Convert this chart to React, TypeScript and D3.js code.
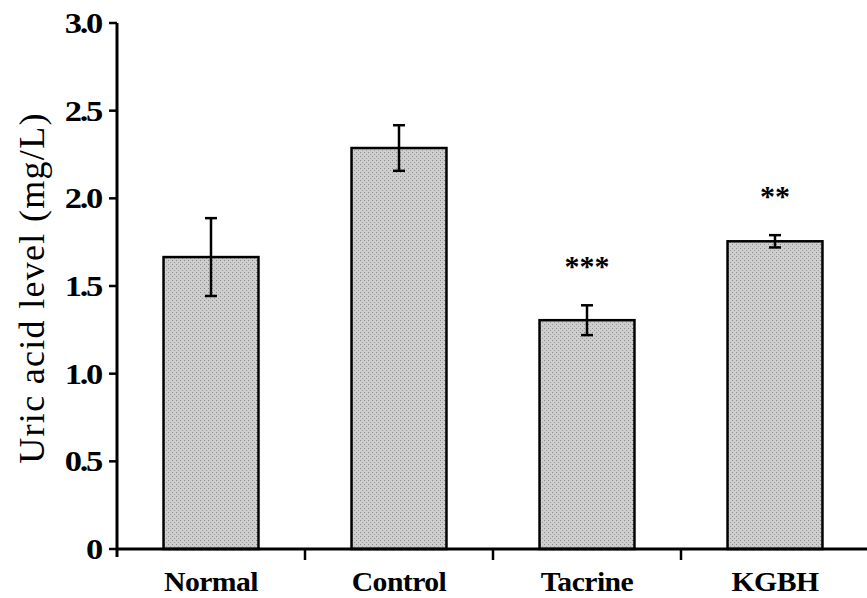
import React from "react";
import * as d3 from "d3";

const categories = ["Normal", "Control", "Tacrine", "KGBH"];
const means = [1.665, 2.287, 1.305, 1.755];
const errors = [0.222, 0.13, 0.085, 0.035];
const stars = ["", "", "***", "**"];
const yTicks = [0, 0.5, 1.0, 1.5, 2.0, 2.5, 3.0];
const yTickLabels = ["0", "0.5", "1.0", "1.5", "2.0", "2.5", "3.0"];

const W = 867, H = 598;
const x0 = 117, y0 = 549, yTop = 23;

export default function App() {
  const x = d3.scaleBand<string>().domain(categories).range([x0, x0 + 4 * 188]).padding(0);
  const y = d3.scaleLinear().domain([0, 3]).range([y0, yTop]);
  const bw = x.bandwidth() * 0.505;
  const font = "'Liberation Serif', 'Times New Roman', serif";
  return (
    <svg width={W} height={H} style={{ position: "absolute", left: 0, top: 0, background: "#fff" }}>
      <defs>
        <pattern id="stip" width="4" height="4" patternUnits="userSpaceOnUse">
          <rect width="4" height="4" fill="#cecece" />
          <rect x="0" y="0" width="1" height="1" fill="#8a8a8a" />
          <rect x="2" y="2" width="1" height="1" fill="#9c9c9c" />
        </pattern>
      </defs>
      {categories.map((c, i) => {
        const cx = x(c)! + x.bandwidth() / 2;
        const top = y(means[i]);
        const eT = y(means[i] + errors[i]);
        const eB = y(means[i] - errors[i]);
        return (
          <g key={c}>
            <rect x={cx - bw / 2} y={top} width={bw} height={y0 - top} fill="url(#stip)" stroke="#000" strokeWidth={2.5} />
            <line x1={cx} x2={cx} y1={eT} y2={eB} stroke="#000" strokeWidth={2.5} />
            <line x1={cx - 6} x2={cx + 6} y1={eT} y2={eT} stroke="#000" strokeWidth={2.5} />
            <line x1={cx - 6} x2={cx + 6} y1={eB} y2={eB} stroke="#000" strokeWidth={2.5} />
            {stars[i] && (
              <text x={cx} y={eT - 29} textAnchor="middle" fontFamily={font} fontWeight="bold" fontSize={30}>
                {stars[i]}
              </text>
            )}
            <text transform={`translate(${cx}, 591) scale(1.1, 1)`} textAnchor="middle" fontFamily={font} fontWeight="bold" fontSize={27} letterSpacing={-0.5}>
              {c}
            </text>
          </g>
        );
      })}
      {/* axes */}
      <line x1={x0} x2={x0} y1={yTop} y2={y0 + 8} stroke="#000" strokeWidth={3} />
      <line x1={x0 - 1} x2={W} y1={y0} y2={y0} stroke="#000" strokeWidth={3} />
      {yTicks.map((t, i) => (
        <g key={t}>
          <line x1={x0 - 8} x2={x0} y1={y(t)} y2={y(t)} stroke="#000" strokeWidth={2.5} />
          <text transform={`translate(101, ${y(t) + 10}) scale(1.15, 1)`} textAnchor="end" fontFamily={font} fontWeight="bold" fontSize={30} letterSpacing={-2}>
            {yTickLabels[i]}
          </text>
        </g>
      ))}
      {categories.slice(0, 3).map((c) => {
        const tx = x(c)! + x.bandwidth();
        return <line key={c} x1={tx} x2={tx} y1={y0} y2={y0 + 11} stroke="#000" strokeWidth={2.5} />;
      })}
      <text transform={`translate(44, 288) rotate(-90)`} textAnchor="middle" fontFamily={font} fontSize={36} letterSpacing={1.3}>
        Uric acid level (mg/L)
      </text>
    </svg>
  );
}
